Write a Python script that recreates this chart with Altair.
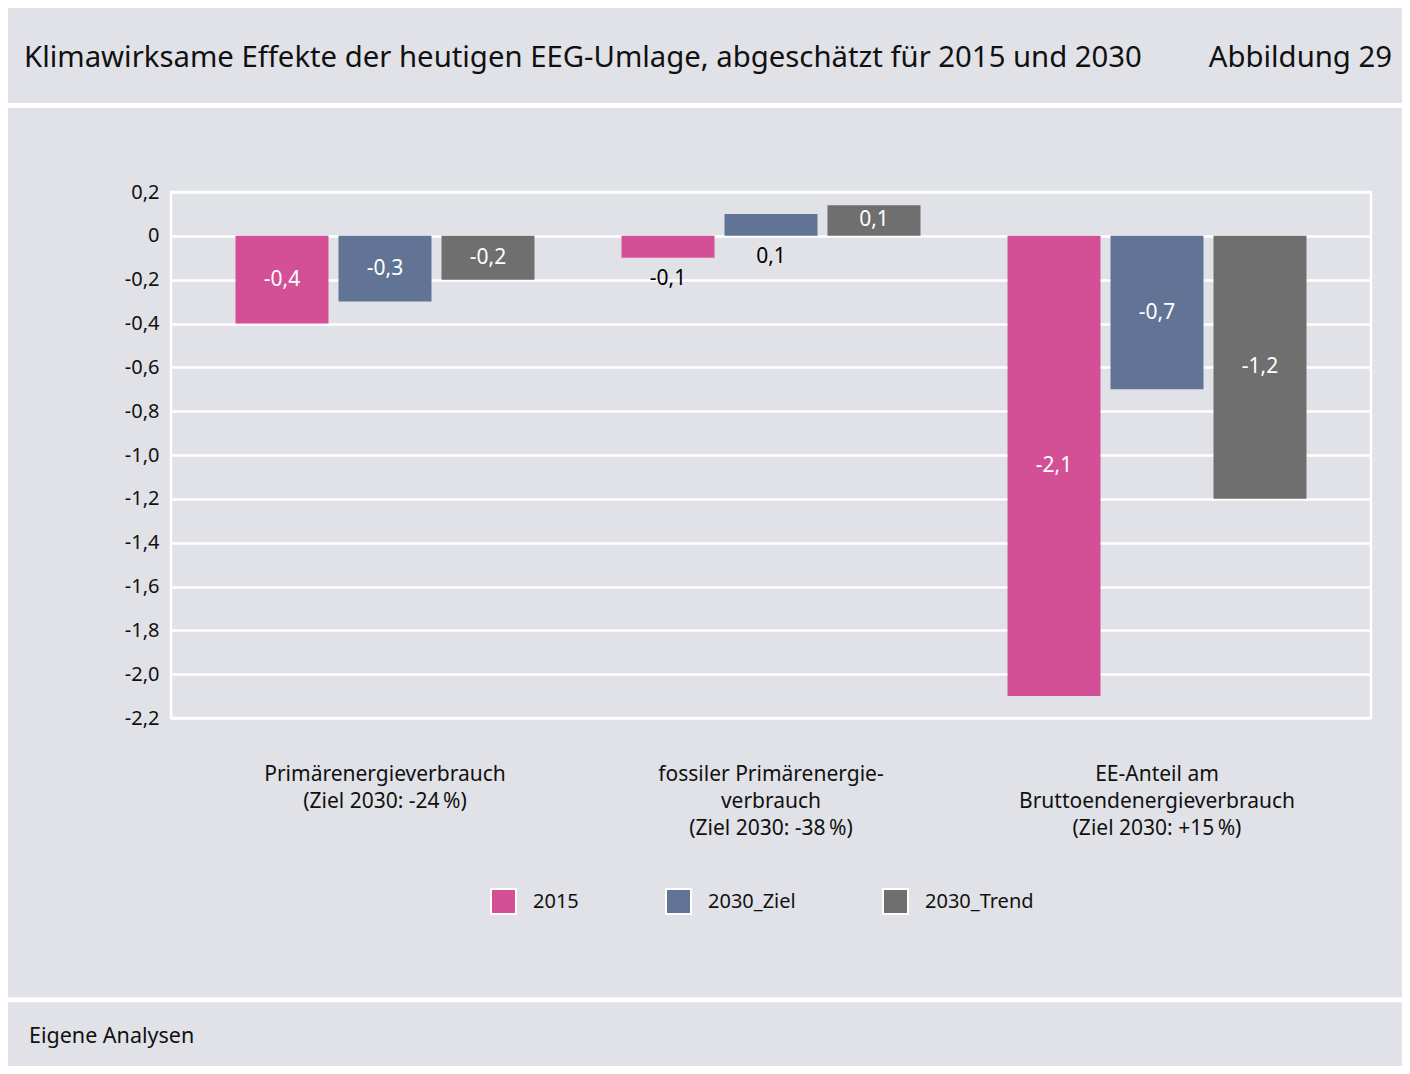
import altair as alt
import pandas as pd

categories = [
    "Primärenergieverbrauch|(Ziel 2030: -24\u2009%)",
    "fossiler Primärenergie-|verbrauch|(Ziel 2030: -38\u2009%)",
    "EE-Anteil am|Bruttoendenergieverbrauch|(Ziel 2030: +15\u2009%)",
]
series = ["2015", "2030_Ziel", "2030_Trend"]
values = {
    "2015": [-0.4, -0.1, -2.1],
    "2030_Ziel": [-0.3, 0.1, -0.7],
    "2030_Trend": [-0.2, 0.14, -1.2],
}
# where the value label sits: inside the bar or just below the zero line
label_place = {
    "2015": ["inside", "below", "inside"],
    "2030_Ziel": ["inside", "below", "inside"],
    "2030_Trend": ["inside", "inside", "inside"],
}
colors = ["#d35097", "#627495", "#6f6f6f"]
y_ticks = [0.2, 0.0, -0.2, -0.4, -0.6, -0.8, -1.0, -1.2, -1.4, -1.6, -1.8, -2.0, -2.2]

title_text = "Klimawirksame Effekte der heutigen EEG-Umlage, abgeschätzt für 2015 und 2030"
fig_text = "Abbildung 29"
source_text = "Eigene Analysen"

rows = []
for s in series:
    for i, c in enumerate(categories):
        v = values[s][i]
        place = label_place[s][i]
        if place == "inside":
            ly = v / 2
            lc = "white"
        else:
            ly = min(v, 0) - 0.095
            lc = "black"
        rows.append({
            "cat": c, "series": s, "value": v,
            "label": f"{v:.1f}".replace(".", ","),
            "label_y": ly, "label_color": lc,
        })
df = pd.DataFrame(rows)

FONT = "Noto Sans"
BG = "#e1e2e7"

x_enc = alt.X(
    "cat:N", sort=categories,
    scale=alt.Scale(paddingInner=0, paddingOuter=0.0544),
    axis=alt.Axis(
        title=None, labelAngle=0, labelExpr="split(datum.label, '|')",
        labelFontSize=21, labelLineHeight=27, labelBaseline="top",
        labelPadding=45, ticks=False, tickSize=0, domain=False,
        labelColor="#111111", labelFont=FONT, labelLimit=400,
    ),
)
xo_enc = alt.XOffset(
    "series:N", sort=series,
    scale=alt.Scale(paddingInner=0.097, paddingOuter=0.4225),
)

bars = alt.Chart(df).mark_bar().encode(
    x=x_enc,
    xOffset=xo_enc,
    y=alt.Y(
        "value:Q",
        scale=alt.Scale(domain=[-2.2, 0.2], nice=False, zero=False),
        axis=alt.Axis(
            title=None, values=y_ticks, grid=True, gridColor="white",
            gridWidth=2.5, gridOpacity=1, domain=False, ticks=False, tickSize=0,
            labelPadding=12, labelFontSize=20, labelColor="#111111", labelFont=FONT,
            labelExpr="abs(datum.value) < 1e-9 ? '0' : (datum.value < 0 ? '-' : '') + replace(format(abs(datum.value), '.1f'), '.', ',')",
        ),
    ),
    color=alt.Color(
        "series:N", sort=series,
        scale=alt.Scale(domain=series, range=colors),
        legend=alt.Legend(
            title=None, orient="none", legendX=319, legendY=696,
            direction="horizontal", symbolType="square", symbolSize=625,
            symbolStrokeColor="white", symbolStrokeWidth=2, symbolOpacity=1,
            labelFontSize=20, labelOffset=16, columnPadding=83, padding=0,
            labelFont=FONT, labelColor="#111111",
        ),
    ),
)

labels = alt.Chart(df).mark_text(fontSize=21, font=FONT, baseline="middle").encode(
    x=alt.X("cat:N", sort=categories),
    xOffset=alt.XOffset("series:N", sort=series),
    y=alt.Y("label_y:Q"),
    text="label:N",
    color=alt.Color("label_color:N", scale=None, legend=None),
)

title = alt.Chart(pd.DataFrame({"t": [title_text]})).mark_text(
    fontSize=29.3, font=FONT, align="left", baseline="middle", color="#111111"
).encode(text="t:N", x=alt.value(-147), y=alt.value(-134))

fig = alt.Chart(pd.DataFrame({"t": [fig_text]})).mark_text(
    fontSize=29.3, font=FONT, align="right", baseline="middle", color="#111111"
).encode(text="t:N", x=alt.value(1221), y=alt.value(-134))

source = alt.Chart(pd.DataFrame({"t": [source_text]})).mark_text(
    fontSize=21.5, font=FONT, align="left", baseline="middle", color="#111111"
).encode(text="t:N", x=alt.value(-142), y=alt.value(845))

sep1 = alt.Chart(pd.DataFrame({"t": [1]})).mark_rule(color="white", strokeWidth=5).encode(
    x=alt.value(-163), x2=alt.value(1231), y=alt.value(-86.5)
)
sep2 = alt.Chart(pd.DataFrame({"t": [1]})).mark_rule(color="white", strokeWidth=5).encode(
    x=alt.value(-163), x2=alt.value(1231), y=alt.value(807.7)
)

chart = alt.layer(bars, labels, title, fig, source, sep1, sep2).resolve_scale(
    color="independent"
).properties(
    width=1200, height=526,
    padding={"left": 163, "top": 184, "right": 31, "bottom": 348},
    autosize=alt.AutoSizeParams(type="none"),
    background=BG,
).configure_view(
    stroke="white", strokeWidth=2.5
)

chart.save("out.html", embed_options={"renderer": "svg", "actions": False})
